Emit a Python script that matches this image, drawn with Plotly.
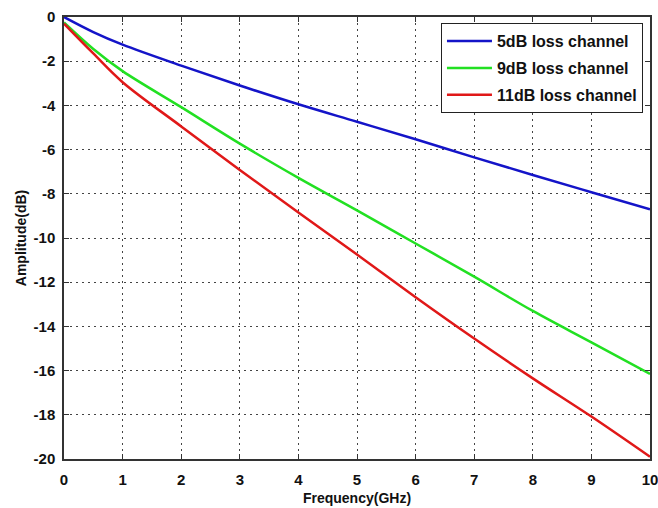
import plotly.graph_objects as go

freq_ghz = [0, 0.5, 1, 2, 3, 4, 5, 6, 7, 8, 9, 10]
loss_5db = [0.0, -0.68, -1.25, -2.2, -3.1, -3.95, -4.74, -5.53, -6.35, -7.15, -7.93, -8.7]
loss_9db = [-0.25, -1.45, -2.45, -4.08, -5.73, -7.28, -8.75, -10.25, -11.75, -13.3, -14.72, -16.15]
loss_11db = [-0.3, -1.65, -2.95, -4.95, -6.92, -8.85, -10.75, -12.68, -14.55, -16.35, -18.08, -19.9]

series_names = ["5dB loss channel", "9dB loss channel", "11dB loss channel"]
series_colors = ["#1414c8", "#22e022", "#e01818"]
x_ticks = list(range(0, 11))
y_ticks = list(range(-20, 1, 2))
y_tick_text = [str(v) for v in y_ticks]  # plain hyphen-minus as in the reference

fig = go.Figure()
for i, (name, ys, col) in enumerate(zip(series_names, [loss_5db, loss_9db, loss_11db], series_colors)):
    fig.add_trace(go.Scatter(
        x=freq_ghz, y=ys, mode="lines", name=name,
        line=dict(color=col, width=2.5, shape="spline", smoothing=1.0),
        legendgroup=f"g{i}",
    ))

font_family = "Liberation Sans, Arial, sans-serif"
axis_common = dict(
    showline=True, linecolor="#333333", linewidth=1.5, mirror="ticks",
    ticks="inside", ticklen=5, tickcolor="#333333", tickwidth=1,
    showgrid=True, gridcolor="#444444", griddash="2px,4px", gridwidth=1,
    zeroline=False, automargin=False, ticklabeloverflow="allow",
    tickfont=dict(family=font_family, size=15, color="#111111", weight="bold"),
)

fig.update_layout(
    width=658, height=508,
    margin=dict(l=64, r=8, t=17, b=49),
    paper_bgcolor="white", plot_bgcolor="white",
    showlegend=True,
    legend=dict(
        x=0.988, y=0.986, xanchor="right", yanchor="top",
        bordercolor="#222222", borderwidth=1, bgcolor="white",
        font=dict(family=font_family, size=16, color="#111111", weight="bold"),
        traceorder="grouped", tracegroupgap=3, itemwidth=45,
    ),
    xaxis=dict(
        range=[0, 10], tickvals=x_ticks, ticklabelstandoff=6,
        title=dict(text="Frequency(GHz)", standoff=6,
                   font=dict(family=font_family, size=14, color="#111111", weight="bold")),
        **axis_common,
    ),
    yaxis=dict(
        range=[-20, 0], tickvals=y_ticks, ticktext=y_tick_text, ticklabelstandoff=4,
        title=dict(text="Amplitude(dB)", standoff=4,
                   font=dict(family=font_family, size=14, color="#111111", weight="bold")),
        **axis_common,
    ),
)

fig.write_html("out.html")
